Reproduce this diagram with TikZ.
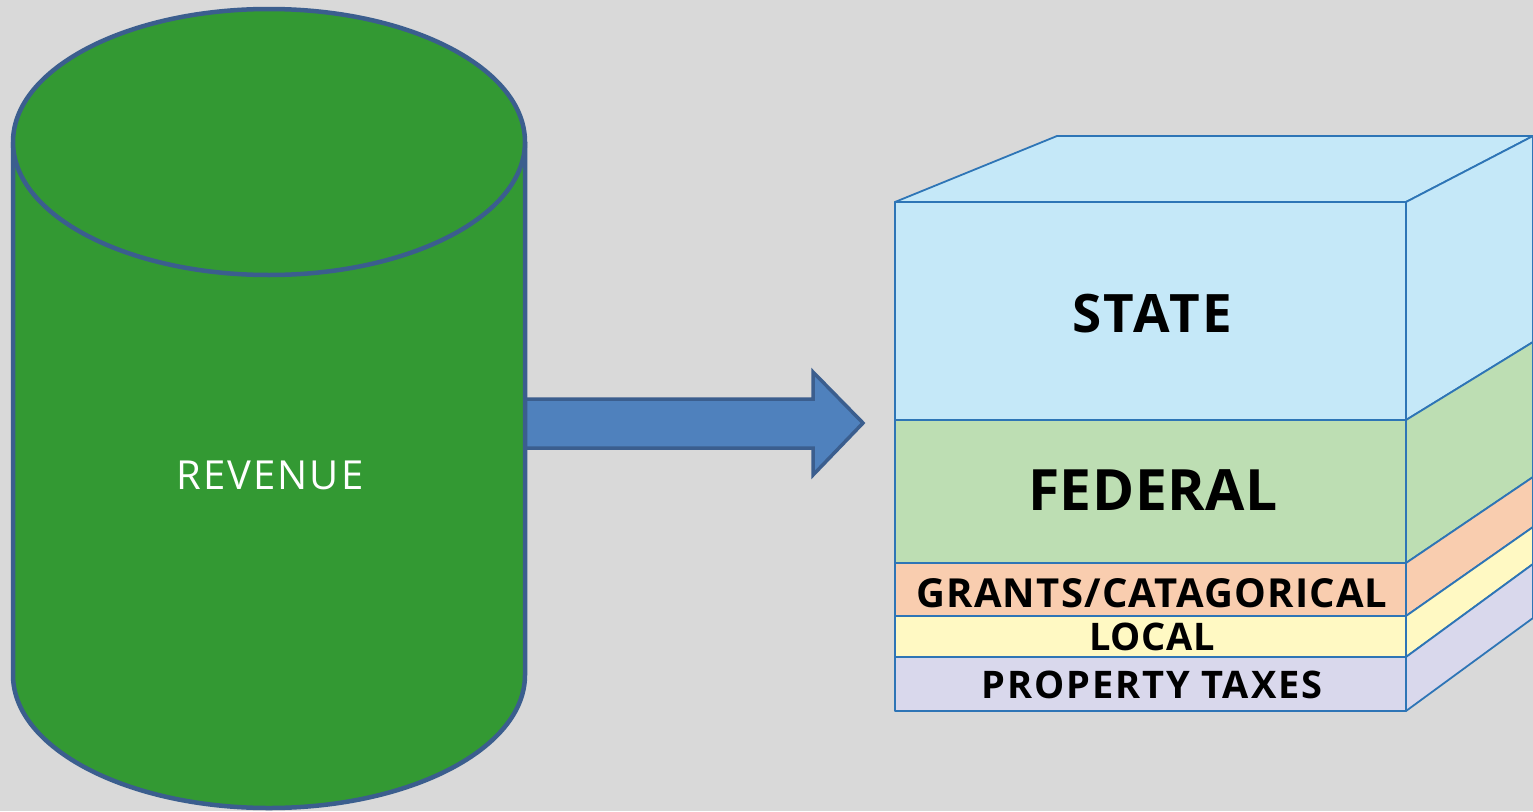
\documentclass[tikz,border=0pt]{standalone}
\usepackage{fontspec}
\setmainfont{Open Sans}
\definecolor{bgcol}{HTML}{D9D9D9}
\definecolor{drumfill}{HTML}{339933}
\definecolor{drumline}{HTML}{3B5E8E}
\definecolor{arrowfill}{HTML}{4F81BD}
\definecolor{boxline}{HTML}{2E75B6}
\definecolor{statecol}{HTML}{C5E8F8}
\definecolor{fedcol}{HTML}{BDDEB3}
\definecolor{grantcol}{HTML}{F9CDAF}
\definecolor{localcol}{HTML}{FFF9C3}
\definecolor{propcol}{HTML}{D9D8EC}
\newcommand{\spaced}[2]{\fontsize{#1}{#1}\selectfont\addfontfeatures{LetterSpace=#2}}
\begin{document}
\begin{tikzpicture}[x=1pt,y=-1pt,
  drum/.style={fill=drumfill,draw=drumline,line width=4.5pt,line join=round},
  bigarrow/.style={fill=arrowfill,draw=drumline,line width=3.5pt,line join=miter},
  layer/.style={draw=boxline,line width=1.8pt,line join=round},
  lbl/.style={anchor=base,inner sep=0pt,text=black}]
\fill[bgcol] (0,0) rectangle (1533,811);
\useasboundingbox (0,0) rectangle (1533,811);

% ---- arrow from the drum to the stack ----
\coordinate (aT) at (863,423);
\path[bigarrow] (520,399) -- (813,399) -- (813,372) -- (aT) -- (813,475) -- (813,448) -- (520,448);

% ---- revenue drum ----
\path[drum] (13,142) -- (13,675)
  arc[start angle=180,end angle=360,x radius=256pt,y radius=133pt]
  -- (525,142);
\path[drum] (269,142) ellipse[x radius=256pt,y radius=133pt];
\node[anchor=base,inner sep=0pt,text=white,font=\spaced{40}{5}] (rev) at (270,489) {REVENUE};

% ---- stacked block ----
% front edge x, right front corner x, clipped back x
\def\fx{895}\def\fr{1406}\def\bx{1533}
% top face
\path[layer,fill=statecol] (\fx,202) -- (1057,136) -- (\bx,136) -- (\fr,202) -- cycle;
% right faces
\path[layer,fill=statecol] (\fr,202) -- (\bx,136) -- (\bx,342) -- (\fr,420) -- cycle;
\path[layer,fill=fedcol]   (\fr,420) -- (\bx,342) -- (\bx,477) -- (\fr,563) -- cycle;
\path[layer,fill=grantcol] (\fr,563) -- (\bx,477) -- (\bx,527) -- (\fr,616) -- cycle;
\path[layer,fill=localcol] (\fr,616) -- (\bx,527) -- (\bx,564) -- (\fr,657) -- cycle;
\path[layer,fill=propcol]  (\fr,657) -- (\bx,564) -- (\bx,618) -- (\fr,711) -- cycle;
% front faces
\path[layer,fill=statecol] (\fx,202) rectangle (\fr,420);
\path[layer,fill=fedcol]   (\fx,420) rectangle (\fr,563);
\path[layer,fill=grantcol] (\fx,563) rectangle (\fr,616);
\path[layer,fill=localcol] (\fx,616) rectangle (\fr,657);
\path[layer,fill=propcol]  (\fx,657) rectangle (\fr,711);

\node[lbl,font=\spaced{53}{5}\bfseries] (state) at (1152,332) {STATE};
\node[lbl,font=\spaced{57}{1}\bfseries] (fed) at (1153,510) {FEDERAL};
\node[lbl,font=\spaced{40}{3}\bfseries] (grants) at (1152,607) {GRANTS/CATAGORICAL};
\node[lbl,font=\spaced{38}{2}\bfseries] (local) at (1152,650) {LOCAL};
\node[lbl,font=\spaced{38}{5}\bfseries] (prop) at (1152,698) {PROPERTY TAXES};
\end{tikzpicture}
\end{document}
